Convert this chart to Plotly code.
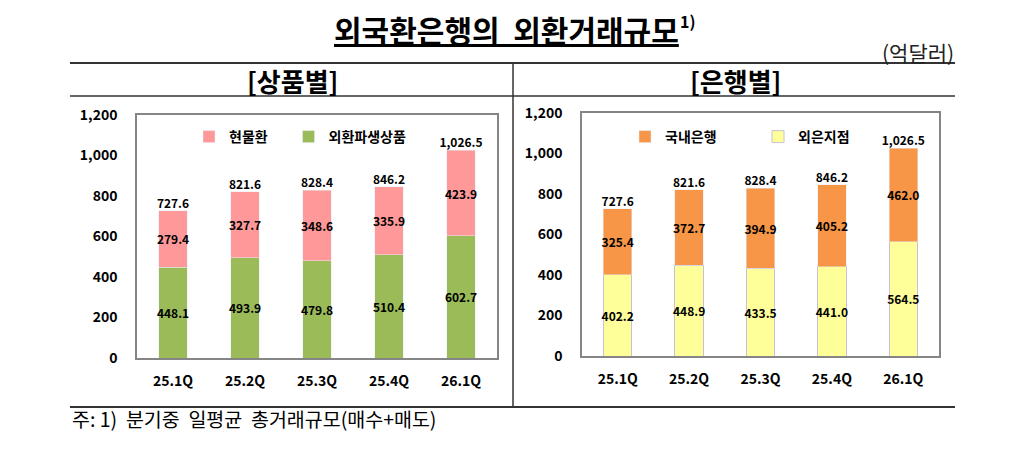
import plotly.graph_objects as go

quarters = ['25.1Q', '25.2Q', '25.3Q', '25.4Q', '26.1Q']

# 상품별
spot = [279.4, 327.7, 348.6, 335.9, 423.9]
deriv = [448.1, 493.9, 479.8, 510.4, 602.7]
total_prod = [727.6, 821.6, 828.4, 846.2, 1026.5]

# 은행별
domestic = [325.4, 372.7, 394.9, 405.2, 462.0]
foreign = [402.2, 448.9, 433.5, 441.0, 564.5]
total_bank = [727.6, 821.6, 828.4, 846.2, 1026.5]

W, H = 1033, 466
FONT = 'Noto Sans CJK KR'
OFF = 8  # page body margin


def px(x):
    return (x - OFF) / W


def py(y):
    return 1 - (y - OFF) / H


fig = go.Figure()

lab_font = dict(family=FONT, size=12, color='black', weight='bold')
bar_common = dict(texttemplate='%{y:.1f}', textposition='inside', textangle=0,
                  insidetextanchor='middle', constraintext='none', textfont=lab_font)

fig.add_trace(go.Bar(x=quarters, y=deriv, name='외환파생상품', marker_color='#9BBB59',
                     xaxis='x', yaxis='y', legend='legend', **bar_common))
# trailing spaces widen the first legend entry
fig.add_trace(go.Bar(x=quarters, y=spot, name='현물환' + '&nbsp;' * 5, marker_color='#FF9999',
                     xaxis='x', yaxis='y', legend='legend', **bar_common))
fig.add_trace(go.Scatter(x=quarters, y=total_prod, mode='text',
                         text=[f'{v:,.1f}' for v in total_prod], textposition='top center',
                         textfont=lab_font, showlegend=False, xaxis='x', yaxis='y'))

fig.add_trace(go.Bar(x=quarters, y=foreign, name='외은지점', marker_color='#FFFF99',
                     marker_line=dict(color='#C8C0D8', width=1),
                     xaxis='x2', yaxis='y2', legend='legend2', **bar_common))
fig.add_trace(go.Bar(x=quarters, y=domestic, name='국내은행', marker_color='#F79646',
                     xaxis='x2', yaxis='y2', legend='legend2', **bar_common))
fig.add_trace(go.Scatter(x=quarters, y=total_bank, mode='text',
                         text=[f'{v:,.1f}' for v in total_bank], textposition='top center',
                         textfont=lab_font, showlegend=False, xaxis='x2', yaxis='y2'))

tick_font = dict(family=FONT, size=14, color='black', weight='bold')
xax = dict(showline=True, linecolor='#858585', linewidth=1.5, mirror=True, showgrid=False,
           tickfont=tick_font, ticks='', ticklabelstandoff=9, fixedrange=True, automargin=False)
yax = dict(showline=True, linecolor='#858585', linewidth=1.5, mirror=True, showgrid=False,
           range=[0, 1200], dtick=200, tickformat=',', tickfont=tick_font, ticks='',
           ticklabelstandoff=15, zeroline=False, fixedrange=True, automargin=False)

leg = dict(orientation='h', traceorder='reversed', bgcolor='rgba(0,0,0,0)',
           font=dict(family=FONT, size=14, color='black', weight='bold'),
           yanchor='middle', xanchor='left', itemclick=False, itemdoubleclick=False)

fig.update_layout(
    width=W, height=H, margin=dict(l=0, r=0, t=0, b=0, autoexpand=False),
    paper_bgcolor='white', plot_bgcolor='white',
    barmode='stack', bargap=0.6,
    xaxis=dict(xax, domain=[px(137), px(497)], anchor='y'),
    yaxis=dict(yax, domain=[py(358), py(115)], anchor='x'),
    xaxis2=dict(xax, domain=[px(582), px(939)], anchor='y2'),
    yaxis2=dict(yax, domain=[py(356), py(113)], anchor='x2'),
    legend=dict(leg, x=px(189), y=py(137)),
    legend2=dict(leg, x=px(625), y=py(137), entrywidth=88),
    showlegend=True,
)

shapes = [
    dict(x0=px(70), x1=px(955), y0=py(63), y1=py(63), line=dict(color='#333333', width=2)),
    dict(x0=px(70), x1=px(955), y0=py(96), y1=py(96), line=dict(color='#333333', width=1.5)),
    dict(x0=px(70), x1=px(955), y0=py(407), y1=py(407), line=dict(color='#333333', width=2)),
    dict(x0=px(513), x1=px(513), y0=py(63), y1=py(407), line=dict(color='#333333', width=1.5)),
]
for s in shapes:
    fig.add_shape(type='line', xref='paper', yref='paper', **s)


def note(text, x, y, size, xanchor='center', bold=False, color='black'):
    fig.add_annotation(text=text, x=px(x), y=py(y), xref='paper', yref='paper',
                       xanchor=xanchor, yanchor='middle', showarrow=False,
                       font=dict(family=FONT, size=size, color=color,
                                 weight='bold' if bold else 'normal'))


note('<u>외국환은행의&nbsp;&nbsp;외환거래규모</u>', 332, 29, 30, xanchor='left', bold=True)
note('1)', 678, 21, 16, xanchor='left', bold=True)
note('(억달러)', 956, 52, 21, xanchor='right', color='#222222')
note('[상품별]', 292, 80, 26, bold=True)
note('[은행별]', 735, 80, 26, bold=True)
note('주:&nbsp;1)&nbsp;&nbsp;분기중&nbsp;&nbsp;일평균&nbsp;&nbsp;총거래규모(매수+매도)', 70, 418, 19.5,
     xanchor='left')

fig.write_html('out.html')
